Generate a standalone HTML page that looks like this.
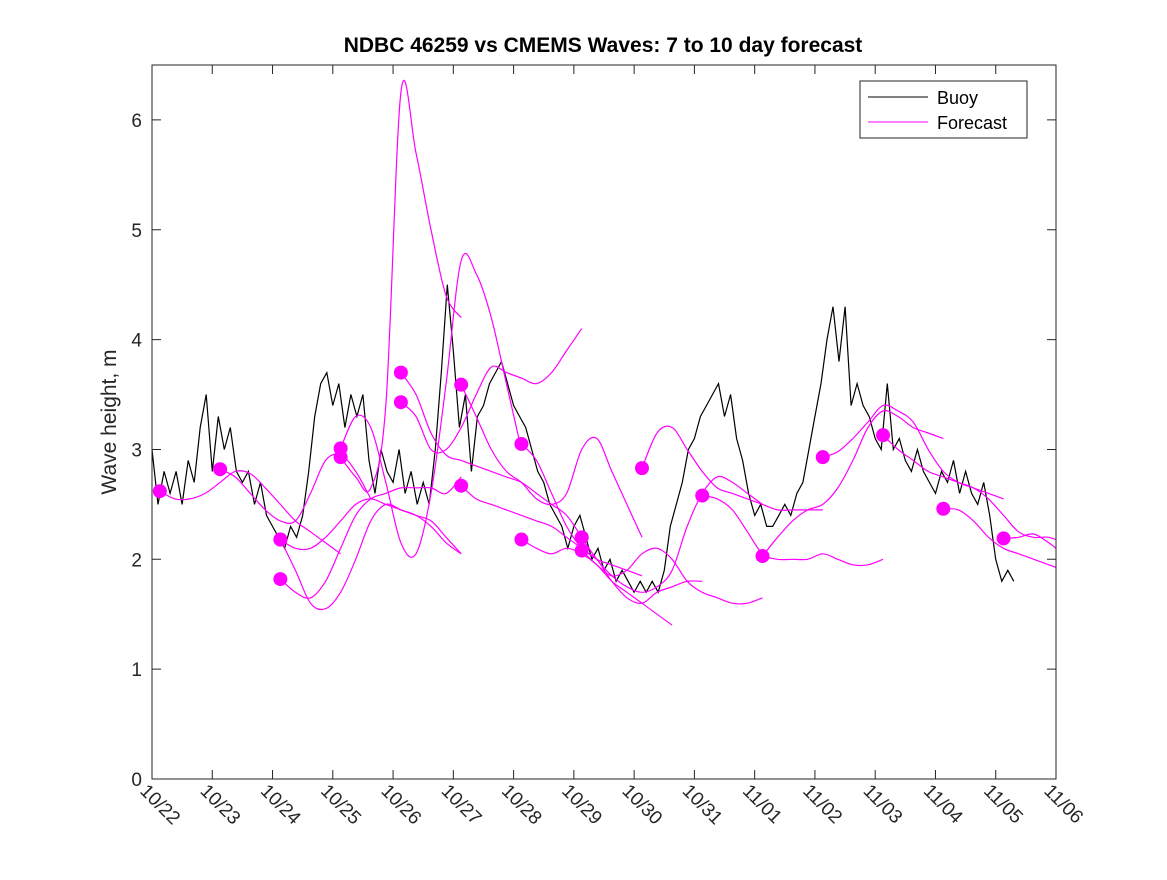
<!DOCTYPE html>
<html><head><meta charset="utf-8"><style>
body{margin:0;background:#fff;}
svg text{font-family:"Liberation Sans",sans-serif;}
</style></head><body>
<svg id="chart" width="1167" height="875" viewBox="0 0 1167 875" xmlns="http://www.w3.org/2000/svg">
<rect width="1167" height="875" fill="#fff"/>
<text x="603" y="52" text-anchor="middle" font-size="21" font-weight="bold" fill="#000">NDBC 46259 vs CMEMS Waves: 7 to 10 day forecast</text>
<defs><clipPath id="clip"><rect x="152" y="65" width="904" height="714"/></clipPath></defs>
<g id="axes"></g>
<g id="series" clip-path="url(#clip)"></g>
<rect x="152" y="65" width="904" height="714" fill="none" stroke="#262626" stroke-width="1"/>
<g>
<rect x="860" y="81" width="167" height="57" fill="#fff" stroke="#262626"/>
<line x1="868" y1="97" x2="928" y2="97" stroke="#000"/>
<text x="937" y="104" font-size="18" fill="#000">Buoy</text>
<line x1="868" y1="122" x2="928" y2="122" stroke="#f0f"/>
<text x="937" y="129" font-size="18" fill="#000">Forecast</text>
</g>
<text transform="translate(116,422) rotate(-90)" text-anchor="middle" font-size="21" fill="#262626">Wave height, m</text>
</svg>
<script>
const xTickLabels=["10/22","10/23","10/24","10/25","10/26","10/27","10/28","10/29","10/30","10/31","11/01","11/02","11/03","11/04","11/05","11/06"];
const yTicks=[0,1,2,3,4,5,6];
const buoyStep=0.1;
const buoyValues=[3.0,2.5,2.8,2.6,2.8,2.5,2.9,2.7,3.2,3.5,
2.8,3.3,3.0,3.2,2.8,2.7,2.8,2.5,2.7,2.4,
2.3,2.2,2.1,2.3,2.2,2.4,2.8,3.3,3.6,3.7,
3.4,3.6,3.2,3.5,3.3,3.5,2.9,2.6,3.0,2.8,
2.7,3.0,2.6,2.8,2.5,2.7,2.5,3.0,3.7,4.5,
3.9,3.2,3.5,2.8,3.3,3.4,3.6,3.7,3.8,3.6,
3.4,3.3,3.2,3.0,2.8,2.7,2.5,2.4,2.3,2.1,
2.3,2.4,2.2,2.0,2.1,1.9,2.0,1.8,1.9,1.8,
1.7,1.8,1.7,1.8,1.7,1.9,2.3,2.5,2.7,3.0,
3.1,3.3,3.4,3.5,3.6,3.3,3.5,3.1,2.9,2.6,
2.4,2.5,2.3,2.3,2.4,2.5,2.4,2.6,2.7,3.0,
3.3,3.6,4.0,4.3,3.8,4.3,3.4,3.6,3.4,3.3,
3.1,3.0,3.6,3.0,3.1,2.9,2.8,3.0,2.8,2.7,
2.6,2.8,2.7,2.9,2.6,2.8,2.6,2.5,2.7,2.4,
2.0,1.8,1.9,1.8];
const fcStep=0.25;
const fcStarts=[0.13,1.13,2.13,2.13,2.13,3.13,3.13,4.13,4.13,5.13,5.13,6.13,6.13,7.13,7.13,8.13,9.13,10.13,11.13,12.13,13.13,14.13];
const fcValues=[
[2.62,2.55,2.55,2.6,2.7,2.8,2.78,2.65,2.5,2.35,2.25,2.15,2.05],
[2.82,2.75,2.6,2.45,2.35,2.35,2.6,2.9,2.95,2.8,2.55],
[2.18,2.1,2.1,2.2,2.35,2.5,2.55,2.5,2.45,2.4,2.3,2.15,2.05],
[1.82,1.7,1.65,1.8,2.1,2.4,2.55,2.6,2.65,2.65,2.65,2.6,2.75],
[2.18,1.9,1.6,1.55,1.7,2.0,2.35,2.5,2.45,2.4,2.35,2.2,2.05],
[3.01,3.3,3.2,2.7,2.15,2.05,2.6,3.6,4.72,4.6,4.2,3.6,3.0],
[2.93,2.75,2.65,3.4,6.25,5.7,5.0,4.4,4.2],
[3.70,3.5,3.15,2.95,2.9,2.85,2.8,2.75,2.7,2.6,2.5,2.4,2.2],
[3.43,3.3,3.0,3.0,3.2,3.5,3.75,3.7,3.65,3.6,3.7,3.9,4.1],
[3.59,3.3,3.0,2.8,2.7,2.55,2.5,2.6,3.0,3.1,2.8,2.5,2.2],
[2.67,2.55,2.5,2.45,2.4,2.35,2.3,2.2,2.1,2.0,1.95,1.9,1.85],
[3.05,2.9,2.6,2.3,2.1,2.0,1.8,1.65,1.6,1.7,1.75,1.8,1.8],
[2.18,2.1,2.05,2.1,2.05,1.95,1.8,1.7,1.6,1.5,1.4],
[2.08,1.95,1.85,1.9,2.05,2.1,2.0,1.8,1.7,1.65,1.6,1.6,1.65],
[2.2,2.0,1.85,1.75,1.7,1.75,1.9,2.3,2.6,2.75,2.7,2.6,2.5],
[2.83,3.15,3.2,3.0,2.8,2.65,2.6,2.55,2.5,2.45,2.45,2.45,2.45],
[2.58,2.55,2.45,2.25,2.05,2.0,2.0,2.0,2.05,2.0,1.95,1.95,2.0],
[2.03,2.2,2.35,2.45,2.5,2.65,2.9,3.2,3.35,3.3,3.2,3.15,3.1],
[2.93,2.98,3.1,3.25,3.4,3.35,3.25,3.0,2.8,2.7,2.65,2.6,2.55],
[3.13,3.0,2.9,2.8,2.75,2.7,2.65,2.55,2.4,2.25,2.2,2.2,2.15],
[2.46,2.45,2.35,2.2,2.1,2.05,2.0,1.95,1.9],
[2.19,2.2,2.23,2.15,2.05,2.0]];

const X0=152,X1=1056,Y0=779,Y1=65,DAYS=15,YMAX=6.5;
const xs=d=>X0+(X1-X0)*d/DAYS;
const ys=v=>Y0-(Y0-Y1)*v/YMAX;
const NS="http://www.w3.org/2000/svg";
function mk(t,a,p){const e=document.createElementNS(NS,t);for(const k in a)e.setAttribute(k,a[k]);p.appendChild(e);return e;}
function smooth(pts){
 let d=`M${pts[0][0].toFixed(1)},${pts[0][1].toFixed(1)}`;
 for(let i=0;i<pts.length-1;i++){
  const p0=pts[Math.max(0,i-1)],p1=pts[i],p2=pts[i+1],p3=pts[Math.min(pts.length-1,i+2)];
  const c1=[p1[0]+(p2[0]-p0[0])/6,p1[1]+(p2[1]-p0[1])/6];
  const c2=[p2[0]-(p3[0]-p1[0])/6,p2[1]-(p3[1]-p1[1])/6];
  d+=`C${c1[0].toFixed(1)},${c1[1].toFixed(1)} ${c2[0].toFixed(1)},${c2[1].toFixed(1)} ${p2[0].toFixed(1)},${p2[1].toFixed(1)}`;
 }
 return d;
}
const axes=document.getElementById('axes'),ser=document.getElementById('series');
yTicks.forEach(v=>{const y=ys(v);
 const l=mk('path',{d:`M${X0},${y}H${X0+9}M${X1},${y}H${X1-9}`,stroke:'#262626'},axes);
 
 
 const t=mk('text',{x:X0-10,y:y+7,'text-anchor':'end','font-size':'19',fill:'#262626'},axes);t.textContent=v;
 
 
});
xTickLabels.forEach((s,i)=>{const x=xs(i);
 const l=mk('path',{d:`M${x},${Y0}V${Y0-9}M${x},${Y1}V${Y1+9}`,stroke:'#262626'},axes);
 
 
 const t=mk('text',{x:0,y:0,'font-size':'19',fill:'#262626',transform:`translate(${x-13},${Y0+13}) rotate(45)`},axes);t.textContent=s;
 
 
});
const bp=buoyValues.map((v,i)=>`${i?'L':'M'}${xs(i*buoyStep).toFixed(1)},${ys(v).toFixed(1)}`).join('');
const b=mk('path',{d:bp,fill:'none',stroke:'#000','stroke-width':'1.2'},ser);


fcValues.forEach((arr,k)=>{const s=fcStarts[k];
 const pts=arr.map((v,i)=>[xs(s+i*fcStep),ys(v)]);
 const l=mk('path',{d:smooth(pts),fill:'none',stroke:'#f0f','stroke-width':'1.2'},ser);
 
 
});
fcValues.forEach((arr,k)=>{
 const c=mk('circle',{cx:xs(fcStarts[k]),cy:ys(arr[0]),r:7,fill:'#f0f'},ser);
 
 
});
</script>
</body></html>
